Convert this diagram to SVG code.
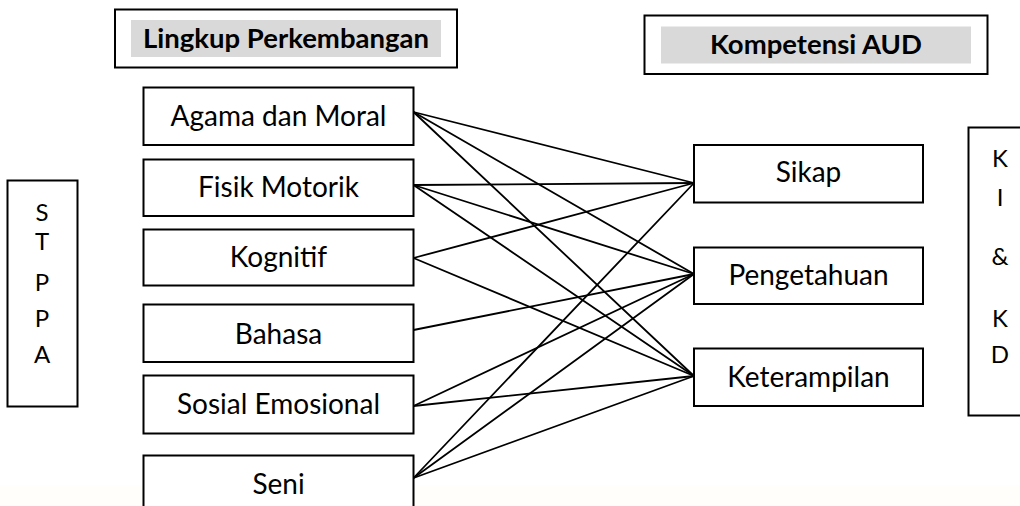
<svg xmlns="http://www.w3.org/2000/svg" width="1020" height="506" viewBox="0 0 1020 506">
  <style>
    .box { fill: #ffffff; stroke: #000000; stroke-width: 2; }
    .band { fill: #d9d9d9; stroke: none; }
    .lbl { font-family: Lato, "Open Sans", "Liberation Sans", sans-serif; font-size: 28px; fill: #000000; text-anchor: middle; }
    .head { font-family: Lato, "Open Sans", "Liberation Sans", sans-serif; font-size: 27.5px; font-weight: bold; fill: #000000; text-anchor: middle; }
    .side { font-family: Lato, "Open Sans", "Liberation Sans", sans-serif; font-size: 24px; fill: #000000; text-anchor: middle; }
    .link { stroke: #000000; stroke-width: 1.8; fill: none; stroke-linecap: round; }
  </style>

  <!-- page -->
  <rect x="0" y="0" width="1020" height="506" fill="#ffffff"/>
  <rect x="0" y="485" width="1020" height="21" fill="#fffefa"/>

  <!-- column headers -->
  <g id="header-lingkup">
    <rect class="box" x="115" y="9.5" width="342" height="58"/>
    <rect class="band" x="131" y="20" width="310" height="37"/>
    <text class="head" x="286" y="47.5">Lingkup Perkembangan</text>
  </g>
  <g id="header-kompetensi">
    <rect class="box" x="644.5" y="15.5" width="343" height="58.5"/>
    <rect class="band" x="661" y="26.5" width="310" height="37"/>
    <text class="head" x="816" y="54">Kompetensi AUD</text>
  </g>

  <!-- side labels -->
  <g id="stppa">
    <rect class="box" x="7.5" y="180.5" width="70" height="226"/>
    <text class="side" x="42" y="221">S</text>
    <text class="side" x="42" y="250">T</text>
    <text class="side" x="42" y="291">P</text>
    <text class="side" x="42" y="327">P</text>
    <text class="side" x="42" y="363">A</text>
  </g>
  <g id="ki-kd">
    <rect class="box" x="968.5" y="127.5" width="56" height="288"/>
    <text class="side" x="1000" y="167">K</text>
    <text class="side" x="1000" y="206">I</text>
    <text class="side" x="1000" y="265">&amp;</text>
    <text class="side" x="1000" y="327">K</text>
    <text class="side" x="1000" y="363">D</text>
  </g>

  <!-- connectors: each developmental area to the competences it feeds -->
  <g id="connectors">
    <line class="link" x1="413.5" y1="112" x2="694" y2="183"/>
    <line class="link" x1="413.5" y1="112" x2="694" y2="274"/>
    <line class="link" x1="413.5" y1="112" x2="694" y2="376"/>
    <line class="link" x1="413.5" y1="185" x2="694" y2="183"/>
    <line class="link" x1="413.5" y1="185" x2="694" y2="274"/>
    <line class="link" x1="413.5" y1="185" x2="694" y2="376"/>
    <line class="link" x1="413.5" y1="258" x2="694" y2="183"/>
    <line class="link" x1="413.5" y1="258" x2="694" y2="376"/>
    <line class="link" x1="413.5" y1="330" x2="694" y2="274"/>
    <line class="link" x1="413.5" y1="406" x2="694" y2="274"/>
    <line class="link" x1="413.5" y1="406" x2="694" y2="376"/>
    <line class="link" x1="413.5" y1="478" x2="694" y2="183"/>
    <line class="link" x1="413.5" y1="478" x2="694" y2="274"/>
    <line class="link" x1="413.5" y1="478" x2="694" y2="376"/>
  </g>

  <!-- developmental areas -->
  <g id="agama-moral">
    <rect class="box" x="143.5" y="87.5" width="270" height="57.5"/>
    <text class="lbl" x="278.5" y="126">Agama dan Moral</text>
  </g>
  <g id="fisik-motorik">
    <rect class="box" x="143.5" y="159.5" width="270" height="56.5"/>
    <text class="lbl" x="278.5" y="197">Fisik Motorik</text>
  </g>
  <g id="kognitif">
    <rect class="box" x="143.5" y="229.5" width="270" height="56"/>
    <text class="lbl" x="278.5" y="267">Kognitif</text>
  </g>
  <g id="bahasa">
    <rect class="box" x="143.5" y="304.5" width="270" height="57.5"/>
    <text class="lbl" x="278.5" y="343.5">Bahasa</text>
  </g>
  <g id="sosial-emosional">
    <rect class="box" x="143.5" y="375.5" width="270" height="58"/>
    <text class="lbl" x="278.5" y="414">Sosial Emosional</text>
  </g>
  <g id="seni">
    <rect class="box" x="143.5" y="455.5" width="270" height="60"/>
    <text class="lbl" x="278.5" y="493.5">Seni</text>
  </g>

  <!-- competences -->
  <g id="sikap">
    <rect class="box" x="694" y="145" width="229" height="57.5"/>
    <text class="lbl" x="808.5" y="182">Sikap</text>
  </g>
  <g id="pengetahuan">
    <rect class="box" x="694" y="247.5" width="229" height="56.5"/>
    <text class="lbl" x="808.5" y="285">Pengetahuan</text>
  </g>
  <g id="keterampilan">
    <rect class="box" x="694" y="348.5" width="229" height="57.5"/>
    <text class="lbl" x="808.5" y="387">Keterampilan</text>
  </g>
</svg>
